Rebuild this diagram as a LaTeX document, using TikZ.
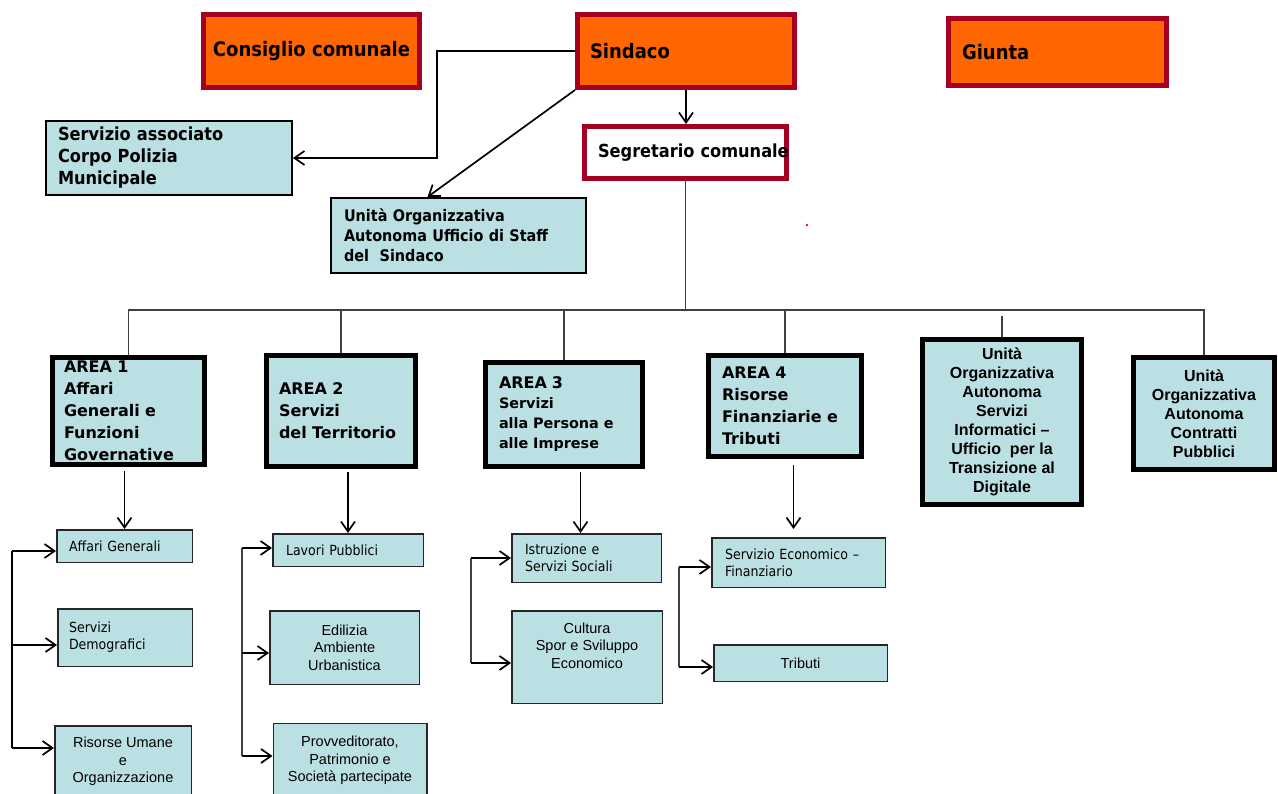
\documentclass[tikz,border=0pt]{standalone}
\usepackage{fontspec}
\usetikzlibrary{arrows.meta}
\newfontfamily\tah[FakeStretch=0.9]{DejaVu Sans}
\newfontfamily\verd{DejaVu Sans}
\newfontfamily\ari{Liberation Sans}
\definecolor{orng}{HTML}{FF6600}
\definecolor{dred}{HTML}{A50021}
\definecolor{lblue}{HTML}{BBE0E3}
\begin{document}
\begin{tikzpicture}[x=1pt,y=-1pt,
  redbox/.style={draw=dred,line width=5pt,fill=orng,inner ysep=0pt},
  segbox/.style={draw=dred,line width=5pt,fill=white,inner ysep=0pt},
  bluebox/.style={draw=black,line width=2pt,fill=lblue,inner ysep=0pt},
  areabox/.style={draw=black,line width=5pt,fill=lblue,inner ysep=0pt},
  subbox/.style={draw=black!85,line width=1.5pt,fill=lblue,inner ysep=0pt},
  lft/.style 2 args={align=left,inner xsep=#1,text width=#2},
  ln/.style={draw=black!75,line width=1.2pt},
  lnb/.style={draw=black,line width=1.6pt},
  arr/.style={draw=black,line width=1.7pt,-{Straight Barb[length=10pt,width=14pt]}},
  ttl/.style={font=\tah\bfseries\fontsize{20}{24}\selectfont},
  ttlm/.style={font=\tah\bfseries\fontsize{18}{22}\selectfont},
  ttls/.style={font=\tah\bfseries\fontsize{16}{20}\selectfont},
  areaf/.style={font=\verd\bfseries\fontsize{16}{22}\selectfont},
  uof/.style={font=\ari\bfseries\fontsize{16}{19}\selectfont,align=center},
  subt/.style={font=\tah\fontsize{14}{17}\selectfont},
  suba/.style={font=\ari\fontsize{14.5}{17.5}\selectfont,align=center}
]
\clip (0,0) rectangle (1278,794);
\fill[white] (0,0) rectangle (1278,794);

% top level
\node[redbox,ttl,minimum width=216pt,minimum height=73pt] (cons) at (311.5,51) {Consiglio comunale};
\node[redbox,ttl,minimum width=217pt,minimum height=73pt,lft={12.5pt}{192pt}] (sind) at (686,51) {Sindaco};
\node[redbox,ttl,minimum width=218pt,minimum height=67pt,lft={13.5pt}{191pt}] (giun) at (1057.5,52) {Giunta};
\node[segbox,ttlm,minimum width=202pt,minimum height=52pt,lft={13.5pt}{175pt}] (segr) at (685.5,152.5) {\mbox{Segretario comunale}};

\node[bluebox,ttlm,minimum width=246pt,minimum height=74pt,lft={12pt}{222pt}] (pol) at (169,158)
  {Servizio associato\\Corpo Polizia\\Municipale};
\node[bluebox,ttls,minimum width=255pt,minimum height=75pt,lft={13pt}{229pt}] (staff) at (458.5,235.5)
  {Unità Organizzativa\\\mbox{Autonoma Ufficio di Staff}\\del\ \ Sindaco};

% areas
\node[areabox,areaf,minimum width=152pt,minimum height=107pt,lft={11.5pt}{129pt}] (a1) at (128.5,411)
  {AREA 1\\Affari\\Generali e\\Funzioni\\Governative};
\node[areabox,areaf,minimum width=149pt,minimum height=111pt,lft={12.5pt}{124pt}] (a2) at (341,411)
  {AREA 2\\Servizi\\\mbox{del Territorio}};
\node[areabox,font=\verd\bfseries\fontsize{14.4}{20}\selectfont,minimum width=157pt,minimum height=104pt,lft={13.5pt}{130pt}] (a3) at (564,414.5)
  {{\fontsize{16}{20}\selectfont AREA 3}\\Servizi\\\mbox{alla Persona e}\\alle Imprese};
\node[areabox,areaf,minimum width=153pt,minimum height=101pt,lft={13.5pt}{126pt}] (a4) at (785,406)
  {AREA 4\\Risorse\\\mbox{Finanziarie e}\\Tributi};
\node[areabox,uof,minimum width=159pt,minimum height=165pt] (uoi) at (1002,422)
  {Unità\\Organizzativa\\Autonoma\\Servizi\\Informatici –\\Ufficio\ \ per la\\Transizione al\\Digitale};
\node[areabox,uof,minimum width=141pt,minimum height=112pt] (uoc) at (1204,413.5)
  {Unità\\Organizzativa\\Autonoma\\Contratti\\Pubblici};

% sub units
\node[subbox,subt,minimum width=135.5pt,minimum height=32.5pt,lft={12.25pt}{111pt}] (ag) at (124.5,546) {Affari Generali};
\node[subbox,subt,minimum width=134.5pt,minimum height=57.5pt,lft={11.25pt}{112pt}] (sd) at (125,637.5) {Servizi\\Demografici};
\node[subbox,suba,minimum width=136.5pt,minimum height=85.5pt] (ru) at (123,768.5) {Risorse Umane\\e\\Organizzazione\\\mbox{}};

\node[subbox,subt,minimum width=150.5pt,minimum height=32.5pt,lft={13.25pt}{124pt}] (lp) at (348,550) {Lavori Pubblici};
\node[subbox,suba,minimum width=149.5pt,minimum height=73.5pt] (ed) at (344.5,647.5) {Edilizia\\Ambiente\\Urbanistica};
\node[subbox,suba,minimum width=153.5pt,minimum height=88.5pt] (pv) at (350,767.5) {Provveditorato,\\Patrimonio e\\Società partecipate\\\mbox{}};

\node[subbox,subt,minimum width=149.5pt,minimum height=48.5pt,lft={13.25pt}{123pt}] (ist) at (586.5,558) {Istruzione e\\Servizi Sociali};
\node[subbox,suba,minimum width=150.5pt,minimum height=92.5pt] (cul) at (587,657) {Cultura\\Spor e Sviluppo\\Economico\\[6pt]\mbox{}};

\node[subbox,subt,minimum width=173.5pt,minimum height=49.5pt,lft={13.25pt}{147pt}] (se) at (798.5,562.5) {Servizio Economico –\\Finanziario};
\node[subbox,suba,minimum width=173.5pt,minimum height=36.5pt] (tr) at (800.5,663) {Tributi};

% coordinates
\coordinate (k1) at (437,100);
\coordinate (bus) at (685,310);
\coordinate (b1t) at (12,551);
\coordinate (b1m) at (12,645);
\coordinate (b1b) at (12,748);
\coordinate (b2t) at (242,548);
\coordinate (b2m) at (242,653);
\coordinate (b2b) at (242,756);
\coordinate (b3t) at (471,558);
\coordinate (b3b) at (471,663);
\coordinate (b4t) at (679,567);
\coordinate (b4b) at (679,667);

% top connectors
\draw[arr] (sind.west) -| (k1) |- (pol.east);
\draw[arr] (sind.south west) -- ([xshift=-31pt]staff.north);
\draw[arr] (sind.south) -- (sind.south |- segr.north);

% bus
\draw[ln] (segr.south) -- (segr.south |- bus);
\draw[ln] (a1.north) |- (uoc.north |- bus) -- (uoc.north);
\draw[ln] (a2.north |- bus) -- (a2.north);
\draw[ln] (a3.north |- bus) -- (a3.north);
\draw[ln] (a4.north |- bus) -- (a4.north);
\draw[ln] ([yshift=-6pt]uoi.north |- bus) -- (uoi.north);

% area down arrows
\draw[arr] ([yshift=-4pt]ag.north |- a1.south) -- (ag.north);
\draw[arr] ([yshift=-3pt]lp.north |- a2.south) -- (lp.north);
\draw[arr] ([xshift=-6pt,yshift=-3pt]ist.north |- a3.south) -- ([xshift=-6pt]ist.north);
\draw[arr] ([xshift=-5pt,yshift=-6pt]se.north |- a4.south) -- ([xshift=-5pt,yshift=8pt]se.north);

% side buses
\draw[lnb] (b1t) -- (b1b);
\draw[arr] (b1t) -- (b1t -| ag.west);
\draw[arr] (b1m) -- (b1m -| sd.west);
\draw[arr] (b1b) -- (b1b -| ru.west);

\draw[ln] (b2t) -- (b2b);
\draw[arr] (b2t) -- (b2t -| lp.west);
\draw[arr] (b2m) -- (b2m -| ed.west);
\draw[arr] (b2b) -- (b2b -| pv.west);

\draw[ln] (b3t) -- (b3b);
\draw[arr] (b3t) -- (b3t -| ist.west);
\draw[arr] (b3b) -- (b3b -| cul.west);

\draw[ln] (b4t) -- (b4b);
\draw[arr] (b4t) -- (b4t -| se.west);
\draw[arr] (b4b) -- (b4b -| tr.west);

\fill[red] (807,225) circle (1.3pt);
\end{tikzpicture}
\end{document}
